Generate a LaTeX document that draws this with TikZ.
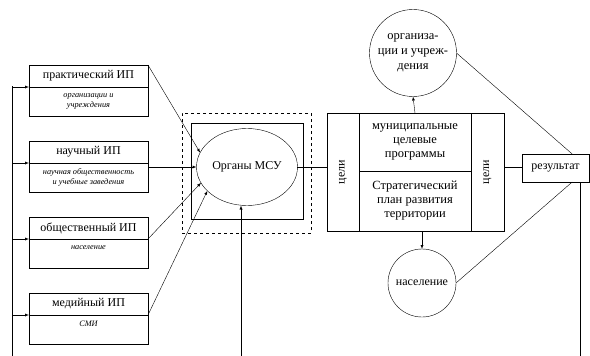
\documentclass[tikz,border=0pt]{standalone}
\usepackage{fontspec}
\setmainfont{Liberation Serif}
\usepackage{graphicx}
\usetikzlibrary{arrows}
\usetikzlibrary{positioning}
\usetikzlibrary{shapes.geometric}

\begin{document}
\begin{tikzpicture}[x=1pt,y=-1pt,node distance=25pt,>=latex,
  every node/.style={inner sep=1pt,outer sep=0pt,font=\fontsize{12}{13}\selectfont},
  ip/.style={draw,minimum width=119pt,minimum height=22pt},
  ipsub/.style={draw,minimum width=119pt,minimum height=29pt,align=center,font=\fontsize{8.3}{9.5}\selectfont\itshape},
  col/.style={draw,minimum width=32pt,minimum height=118pt,font=\fontsize{12}{14}\selectfont},
  cell/.style={draw,minimum width=112pt,align=center,font=\fontsize{12.5}{14}\selectfont}]
  \useasboundingbox (0,0) rectangle (590,356);

  \coordinate (bus) at (12,86);
  \coordinate (bot) at (12,356);
  \coordinate (up) at (241,356);

  \node[ip] (prak) at (88.5,76) {практический ИП};
  \node[ipsub,below=0pt of prak] (prak-s) {организации и\\учреждения};
  \node[ip,below=of prak-s] (nauch) {научный ИП};
  \node[ipsub,below=0pt of nauch] (nauch-s) {научная общественность\\и учебные заведения};
  \node[ip,below=of nauch-s] (obsch) {общественный ИП};
  \node[ipsub,text depth=12pt,below=0pt of obsch] (obsch-s) {население};
  \node[ip,below=of obsch-s] (med) {медийный ИП};
  \node[ipsub,text depth=12pt,below=0pt of med] (med-s) {СМИ};

  \node[draw,dashed,minimum width=129pt,minimum height=120pt] (frame) at (246.5,173) {};
  \node[draw,minimum width=112pt,minimum height=96pt] (inner) at (247,171) {};
  \node[draw,ellipse,minimum width=94pt,minimum height=77pt] (msu) at (247,167) {Органы МСУ};

  \node[col] (gl) at (343,172) {\rotatebox{90}{цели}};
  \node[cell,minimum height=58pt] (mp) at (415,142) {муниципальные\\целевые\\программы};
  \node[cell,minimum height=60pt] (sp) at (415,201) {Стратегический\\план развития\\территории};
  \node[col,minimum width=33pt] (gr) at (487.5,172) {\rotatebox{90}{цели}};

  \node[draw,circle,minimum size=87pt,align=center,font=\fontsize{12.5}{15}\selectfont] (org) at (413,53) {организа-\\ции и учреж-\\дения};
  \node[draw,circle,minimum size=68pt,font=\fontsize{12}{14}\selectfont] (nas) at (422,283) {население};
  \node[draw,minimum width=67pt,minimum height=28pt,font=\fontsize{12}{14}\selectfont] (res) at (555.5,168) {результат};

  % inputs
  \draw (bus) -- (bot);
  \foreach \n in {prak,nauch,obsch,med}
    \draw[->] (\n.south west -| bus) -- (\n.south west);
  \draw[->] (prak.north east) -- (msu.163);
  \draw[->] (msu.west -| nauch-s.east) -- (msu.west);
  \draw[->] (obsch-s.north east) -- (msu.199);
  \draw[->] (med-s.north east) -- (msu.211);
  \draw[->] (up) -- (up |- msu.south);

  % programmes
  \draw (msu.east) -- (msu.east -| gl.west);
  \draw[->] (mp.north) -- (org.south);
  \draw[->] (nas.north |- sp.south) -- (nas.north);
  \draw (msu.east -| gr.east) -- (msu.east -| res.west);
  \draw (org.east) -- (res.40);
  \draw (res.-40) -- (nas.east);
  \draw (res.-30) -- (res.-30 |- bot);
\end{tikzpicture}
\end{document}
